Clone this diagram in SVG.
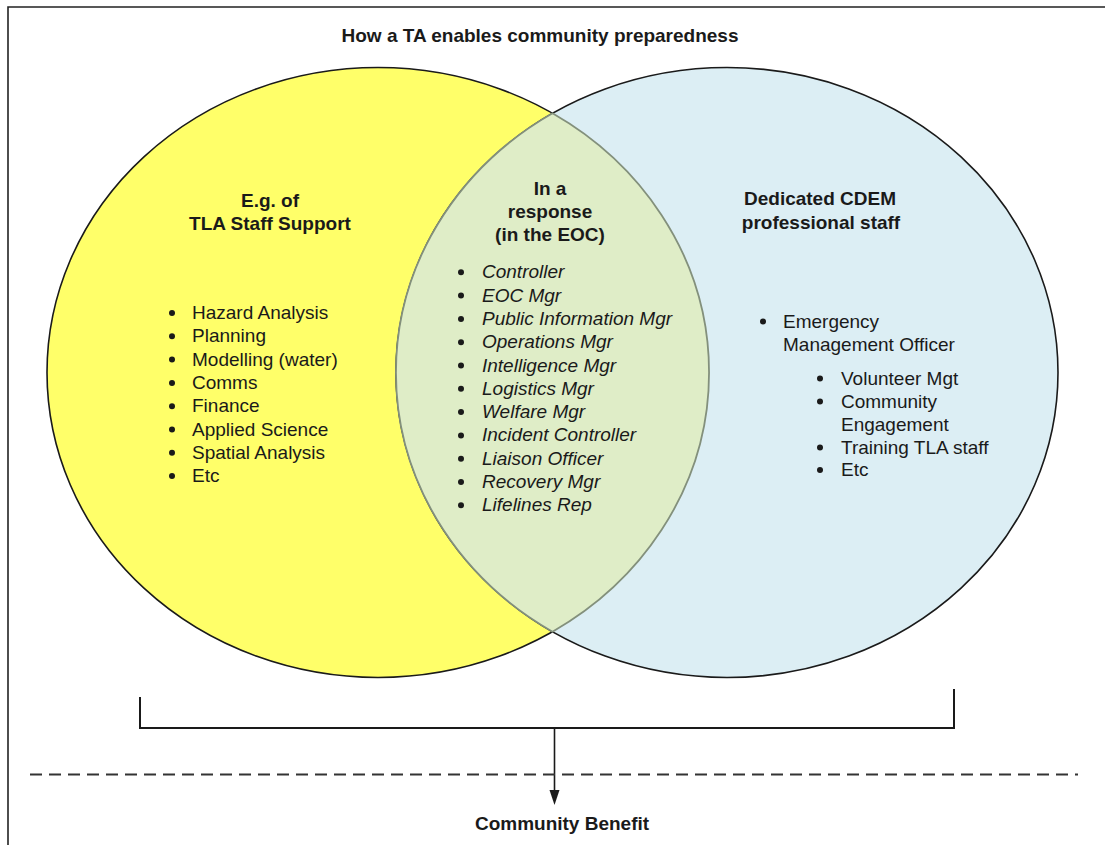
<svg xmlns="http://www.w3.org/2000/svg" width="1105" height="845" viewBox="0 0 1105 845">
<defs>
<style>
.t{font-family:"Liberation Sans",Arial,sans-serif;font-size:19px;fill:#1a1a1a}
.b{font-weight:bold}
.i{font-style:italic}
.m{text-anchor:middle}
.dot{fill:#1a1a1a}
</style>
</defs>
<rect width="1105" height="845" fill="#fff"/>
<path d="M8,845 L8,7 L1105,7" fill="none" stroke="#222" stroke-width="1.6"/>
<text id="title" class="t b m" x="540" y="42">How a TA enables community preparedness</text>

<g id="left-set">
<ellipse cx="378" cy="372.5" rx="331" ry="305" fill="#FFFF69" stroke="#1a1a1a" stroke-width="1.6"/>
</g>
<g id="right-set">
<ellipse cx="727" cy="372.5" rx="331" ry="305" fill="#DCEEF4" stroke="#1a1a1a" stroke-width="1.6"/>
</g>
<g id="overlap">
<path d="M552.5,113.3 A331,305 0 0 0 552.5,631.7 A331,305 0 0 0 552.5,113.3 Z" fill="#DFEDC7" stroke="#83907c" stroke-width="1.8"/>
</g>

<g id="left-text">
<text class="t b m" x="270" y="207">E.g. of</text>
<text class="t b m" x="270" y="230">TLA Staff Support</text>
<g class="t">
<text x="192" y="319">Hazard Analysis</text>
<text x="192" y="342.3">Planning</text>
<text x="192" y="365.6">Modelling (water)</text>
<text x="192" y="388.9">Comms</text>
<text x="192" y="412.2">Finance</text>
<text x="192" y="435.5">Applied Science</text>
<text x="192" y="458.8">Spatial Analysis</text>
<text x="192" y="482">Etc</text>
</g>
<g class="dot">
<circle cx="172" cy="313" r="3"/><circle cx="172" cy="336.3" r="3"/><circle cx="172" cy="359.6" r="3"/><circle cx="172" cy="382.9" r="3"/><circle cx="172" cy="406.2" r="3"/><circle cx="172" cy="429.5" r="3"/><circle cx="172" cy="452.8" r="3"/><circle cx="172" cy="476" r="3"/>
</g>
</g>

<g id="middle-text">
<text class="t b m" x="550" y="195">In a</text>
<text class="t b m" x="550" y="218">response</text>
<text class="t b m" x="550" y="241">(in the EOC)</text>
<g class="t i">
<text x="482" y="278.3">Controller</text>
<text x="482" y="301.6">EOC Mgr</text>
<text x="482" y="324.9">Public Information Mgr</text>
<text x="482" y="348.2">Operations Mgr</text>
<text x="482" y="371.5">Intelligence Mgr</text>
<text x="482" y="394.8">Logistics Mgr</text>
<text x="482" y="418.1">Welfare Mgr</text>
<text x="482" y="441.4">Incident Controller</text>
<text x="482" y="464.7">Liaison Officer</text>
<text x="482" y="488">Recovery Mgr</text>
<text x="482" y="511.3">Lifelines Rep</text>
</g>
<g class="dot">
<circle cx="461" cy="272.3" r="3"/><circle cx="461" cy="295.6" r="3"/><circle cx="461" cy="318.9" r="3"/><circle cx="461" cy="342.2" r="3"/><circle cx="461" cy="365.5" r="3"/><circle cx="461" cy="388.8" r="3"/><circle cx="461" cy="412.1" r="3"/><circle cx="461" cy="435.4" r="3"/><circle cx="461" cy="458.7" r="3"/><circle cx="461" cy="482" r="3"/><circle cx="461" cy="505.3" r="3"/>
</g>
</g>

<g id="right-text">
<text class="t b m" x="820" y="205">Dedicated CDEM</text>
<text class="t b m" x="821" y="229">professional staff</text>
<g class="t">
<text x="783" y="327.5">Emergency</text>
<text x="783" y="350.5">Management Officer</text>
<text x="841" y="384.5">Volunteer Mgt</text>
<text x="841" y="407.5">Community</text>
<text x="841" y="430.5">Engagement</text>
<text x="841" y="453.5">Training TLA staff</text>
<text x="841" y="476">Etc</text>
</g>
<g class="dot">
<circle cx="763" cy="321.5" r="3"/>
<circle cx="820" cy="378.5" r="3"/><circle cx="820" cy="401.5" r="3"/><circle cx="820" cy="447.5" r="3"/><circle cx="820" cy="470" r="3"/>
</g>
</g>

<g id="connectors" fill="none" stroke="#1a1a1a">
<path d="M140,697 L140,728 L954,728 L954,689" stroke-width="2"/>
<line x1="554.5" y1="728" x2="554.5" y2="791" stroke-width="1.6"/>
<path d="M549.5,790 L559.5,790 L554.5,805 Z" fill="#1a1a1a" stroke="none"/>
<line x1="30" y1="774.5" x2="1078" y2="774.5" stroke="#333" stroke-width="1.8" stroke-dasharray="12,7"/>
</g>

<text id="community-benefit" class="t b m" x="562" y="830">Community Benefit</text>
</svg>
